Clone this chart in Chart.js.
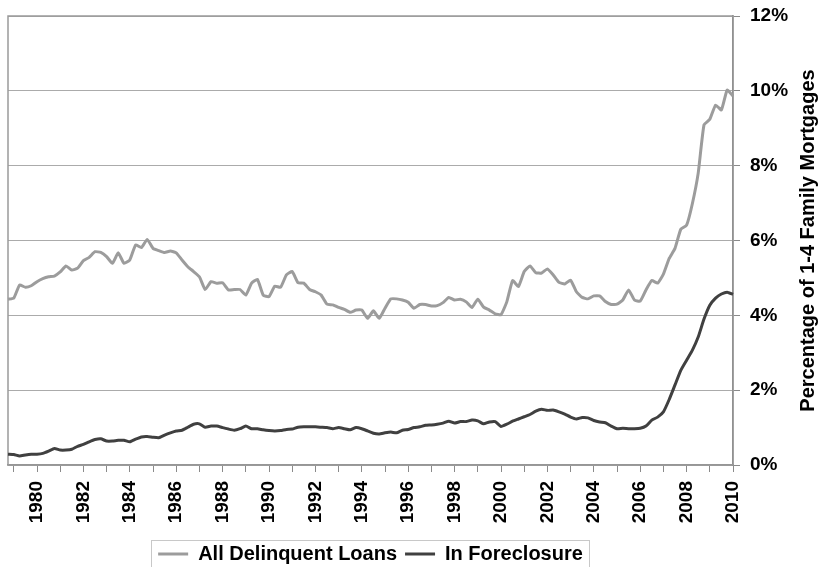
<!DOCTYPE html>
<html><head><meta charset="utf-8">
<script src="https://cdn.jsdelivr.net/npm/chart.js@4"></script>
<style>
html,body{margin:0;padding:0;overflow:hidden;background:#fff;width:820px;height:567px}
#wrap{width:820px;height:574px;position:relative}
</style></head>
<body><div id="wrap"><canvas id="c" width="820" height="574"></canvas></div>
<script>
// Categories: quarterly, first point 1978 Q4, last point 2010 Q1
const firstYear = 1978, firstQuarter = 4, nPoints = 126;
const quarters = [];
for (let i = 0; i < nPoints; i++) {
  const k = firstQuarter - 1 + i;
  quarters.push((firstYear + Math.floor(k / 4)) + ' Q' + (k % 4 + 1));
}
const yearLabels = ['1980','1982','1984','1986','1988','1990','1992','1994','1996','1998','2000','2002','2004','2006','2008','2010'];
const yTicks = ['0%','2%','4%','6%','8%','10%','12%'];

const delinquent = [
 4.43,4.46,4.81,4.75,4.79,4.90,4.98,5.03,5.05,5.16,
 5.32,5.21,5.26,5.46,5.55,5.70,5.68,5.57,5.39,5.67,
 5.39,5.48,5.88,5.81,6.03,5.79,5.73,5.68,5.72,5.67,
 5.48,5.30,5.17,5.03,4.69,4.90,4.86,4.87,4.68,4.69,
 4.69,4.54,4.86,4.96,4.54,4.50,4.78,4.75,5.08,5.17,
 4.87,4.86,4.69,4.63,4.54,4.30,4.28,4.21,4.16,4.08,
 4.14,4.14,3.92,4.12,3.92,4.19,4.44,4.44,4.41,4.35,
 4.19,4.29,4.29,4.25,4.26,4.34,4.48,4.41,4.43,4.36,
 4.21,4.43,4.22,4.14,4.04,4.02,4.36,4.93,4.77,5.17,
 5.32,5.14,5.13,5.24,5.08,4.88,4.84,4.94,4.63,4.48,
 4.44,4.52,4.52,4.37,4.29,4.30,4.41,4.68,4.41,4.38,
 4.68,4.93,4.86,5.10,5.52,5.79,6.30,6.41,6.99,7.80,
 9.09,9.24,9.62,9.49,10.02,9.86
];
const foreclosure = [
 0.29,0.28,0.24,0.27,0.29,0.29,0.31,0.37,0.44,0.40,
 0.40,0.42,0.50,0.55,0.62,0.68,0.70,0.64,0.64,0.66,
 0.66,0.62,0.69,0.75,0.76,0.74,0.73,0.80,0.86,0.91,
 0.93,1.01,1.09,1.10,1.01,1.04,1.04,1.00,0.96,0.93,
 0.97,1.04,0.97,0.97,0.94,0.92,0.91,0.92,0.95,0.96,
 1.01,1.02,1.02,1.02,1.01,1.00,0.97,1.00,0.97,0.94,
 1.00,0.97,0.91,0.85,0.83,0.86,0.88,0.86,0.93,0.95,
 1.00,1.02,1.06,1.07,1.09,1.12,1.17,1.12,1.16,1.16,
 1.20,1.18,1.10,1.15,1.16,1.03,1.09,1.17,1.23,1.29,
 1.35,1.44,1.49,1.46,1.47,1.42,1.36,1.28,1.23,1.27,
 1.26,1.19,1.15,1.13,1.04,0.97,0.98,0.97,0.97,0.98,
 1.04,1.20,1.28,1.42,1.75,2.14,2.53,2.80,3.07,3.42,
 3.90,4.27,4.46,4.57,4.62,4.56
];

const FONT = '"Liberation Sans", Arial, Helvetica, sans-serif';
const axisTitle = 'Percentage of 1-4 Family Mortgages';

const framePlugin = {
  id: 'frame',
  beforeDatasetsDraw(chart) {
    const a = chart.chartArea, ctx = chart.ctx;
    ctx.save();
    ctx.strokeStyle = '#9a9a9a';
    ctx.lineWidth = 1.5;
    ctx.strokeRect(a.left, a.top, a.right - a.left, a.bottom - a.top);
    ctx.restore();
  },
  afterDraw(chart) {
    const a = chart.chartArea, ctx = chart.ctx;
    ctx.save();
    ctx.font = 'bold 20px ' + FONT;
    ctx.fillStyle = '#000';
    ctx.textAlign = 'center';
    ctx.textBaseline = 'middle';
    ctx.translate(808, (a.top + a.bottom) / 2);
    ctx.rotate(-Math.PI / 2);
    ctx.fillText(axisTitle, 0, 0);
    ctx.restore();
    const hb = chart.legend.legendHitBoxes;
    if (hb && hb.length) {
      const l = hb[0].left - 7, r = hb[hb.length - 1].left + hb[hb.length - 1].width + 6;
      const t = hb[0].top - 4, b = hb[0].top + hb[0].height + 8;
      ctx.save();
      ctx.strokeStyle = '#c8c8c8';
      ctx.lineWidth = 1;
      ctx.strokeRect(Math.round(l) + 0.5, Math.round(t) + 0.5, Math.round(r - l), Math.round(b - t));
      ctx.restore();
    }
  }
};

new Chart(document.getElementById('c'), {
  type: 'line',
  data: {
    labels: quarters,
    datasets: [
      { label: 'All Delinquent Loans', data: delinquent, borderColor: '#9c9c9c', backgroundColor: '#9c9c9c',
        borderWidth: 3, pointRadius: 0, tension: 0.15, fill: false },
      { label: 'In Foreclosure', data: foreclosure, borderColor: '#404040', backgroundColor: '#404040',
        borderWidth: 3, pointRadius: 0, tension: 0.15, fill: false }
    ]
  },
  options: {
    responsive: false,
    animation: false,
    devicePixelRatio: 1,
    layout: { padding: { left: 8, top: 16, right: 0, bottom: 0 } },
    plugins: {
      legend: {
        position: 'bottom', fullSize: false,
        labels: { usePointStyle: true, pointStyle: 'line', pointStyleWidth: 30, padding: 8,
          color: '#000', font: { family: FONT, size: 20, weight: 'bold' } }
      },
      tooltip: { enabled: false }
    },
    scales: {
      x: {
        type: 'category', offset: false,
        grid: { drawOnChartArea: false, offset: false, tickLength: 7, lineWidth: 1,
          tickColor: c => (quarters[c.index] && quarters[c.index].endsWith('Q1')) ? '#8a8a8a' : 'rgba(0,0,0,0)' },
        border: { display: true, color: '#8a8a8a', width: 1.5 },
        ticks: {
          autoSkip: false, maxRotation: 90, minRotation: 90, padding: 9, color: '#000',
          font: { family: FONT, size: 19, weight: 'bold' },
          callback: (v, i) => {
            const l = quarters[i]; const yr = l.slice(0, 4);
            return (l.endsWith('Q1') && yearLabels.includes(yr)) ? yr : '';
          }
        },
        afterFit: s => { s.height = 71; s.paddingLeft = 0; s.paddingRight = 0; }
      },
      y: {
        position: 'right', min: 0, max: 12,
        ticks: { stepSize: 2, padding: 10, color: '#000', font: { family: FONT, size: 19, weight: 'bold' },
          callback: (v) => yTicks[v / 2] },
        grid: { color: '#ababab', lineWidth: 1, tickLength: 7, tickColor: '#8a8a8a' },
        border: { display: true, color: '#7a7a7a', width: 1.5 },
        afterFit: s => { s.width = 87; s.paddingTop = 0; s.paddingBottom = 0; }
      }
    }
  },
  plugins: [framePlugin]
});
</script>
</body></html>
